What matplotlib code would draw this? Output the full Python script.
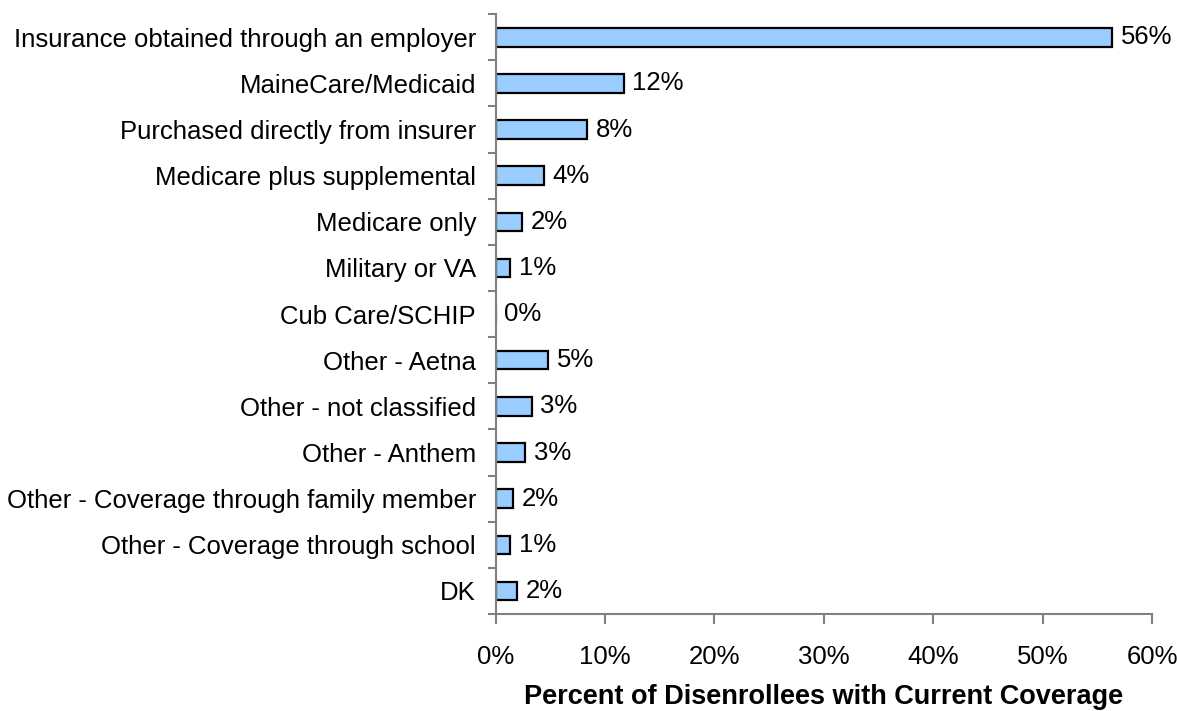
import numpy as np
import matplotlib.pyplot as plt

plt.rcParams['font.family'] = ['Liberation Sans', 'DejaVu Sans']

# coverage categories, top to bottom
categorias = ['Insurance obtained through an employer', 'MaineCare/Medicaid',
              'Purchased directly from insurer', 'Medicare plus supplemental',
              'Medicare only', 'Military or VA', 'Cub Care/SCHIP', 'Other - Aetna',
              'Other - not classified', 'Other - Anthem',
              'Other - Coverage through family member',
              'Other - Coverage through school', 'DK']
# percent of disenrollees
valores = [56.3, 11.7, 8.4, 4.4, 2.4, 1.3, 0.0, 4.8, 3.3, 2.7, 1.6, 1.3, 2.0]
xticks = [0, 10, 20, 30, 40, 50, 60]

fig = plt.figure(figsize=(11.77, 7.11), dpi=100)
ax = fig.add_axes([0.421, 0.1364, 0.558, 0.8436])

y = np.arange(len(categorias))
ax.barh(y, valores, height=0.4, color='#99CCFF', edgecolor='black', linewidth=1.6)

#rotulos de valor ao lado de cada barra
for yi, v in zip(y, valores):
	ax.text(v + 0.8, yi, '%d%%' % round(v), va='center', ha='left', fontsize=18.5)

ax.set_xlim(0, 60)
ax.set_ylim(len(categorias) - 0.5, -0.5)
ax.set_xticks(xticks)
ax.set_xticklabels(['%d%%' % t for t in xticks], fontsize=18.5)
ax.set_yticks(y)
ax.set_yticklabels(categorias, fontsize=18.5)
ax.set_yticks(np.arange(-0.5, len(categorias)), minor=True)
ax.tick_params(axis='y', which='major', length=0, pad=14)
ax.tick_params(axis='y', which='minor', length=6, width=1.5, color='#808080')
ax.tick_params(axis='x', length=7, width=1.5, color='#808080', pad=15)

for lado in ['top', 'right']:
	ax.spines[lado].set_visible(False)
for lado in ['left', 'bottom']:
	ax.spines[lado].set_color('#808080')
	ax.spines[lado].set_linewidth(1.5)

ax.set_xlabel('Percent of Disenrollees with Current Coverage', fontsize=19.5,
              fontweight='bold', labelpad=11)

fig.savefig('out.png', dpi=100)
